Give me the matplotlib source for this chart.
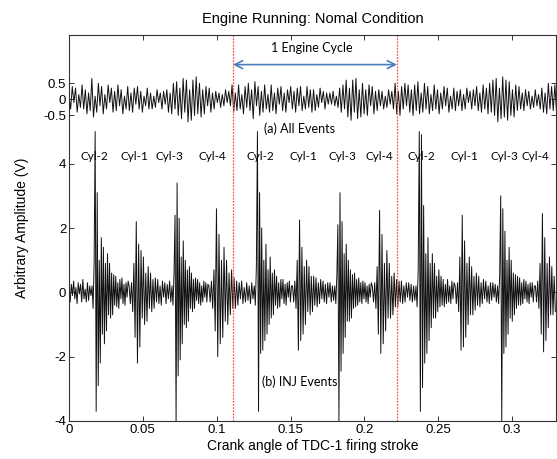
import matplotlib
matplotlib.use('Agg')
import matplotlib.pyplot as plt
import numpy as np

# ---- data ----
x_end = 0.33
cycle_marks = [0.111, 0.222]

# (a) All Events, plotted around offset 6
all_offset = 6.0
all_events = [
    0.1, -0.3, 0.4, -0.1, 0.35, -0.4, 0.15, -0.25, 0.45, -0.3,
    0.3, -0.45, 0.2, -0.35, 0.65, -0.55, 0.1, -0.4, 0.5, -0.2,
    0.4, -0.45, 0.15, -0.3, 0.45, -0.1, 0.35, -0.4, 0.25, -0.35,
    0.45, -0.2, 0.3, -0.45, 0.1, -0.3, 0.4, -0.35, 0.2, -0.4,
    0.35, -0.15, 0.4, -0.3, 0.25, -0.4, 0.1, -0.2, 0.35, -0.3,
    0.2, -0.3, 0.1, -0.25, 0.3, -0.1, 0.2, -0.3, 0.25, -0.15,
    0.3, -0.4, 0.2, -0.45, 0.5, -0.3, 0.55, -0.5, 0.35, -0.6,
    0.65, -0.4, 0.6, -0.7, 0.3, -0.65, 0.6, -0.5, 0.7, -0.45,
    0.5, -0.55, 0.3, -0.45, 0.4, -0.2, 0.35, -0.4, 0.2, -0.3,
    0.25, -0.1, 0.2, -0.25, 0.15, -0.2, 0.3, -0.1, 0.25, -0.2,
    0.45, -0.4, 0.2, -0.35, 0.45, -0.3, 0.15, -0.45, 0.4, -0.25,
    0.5, -0.35, 0.3, -0.6, 0.55, -0.2, 0.4, -0.5, 0.25, -0.4,
    0.45, -0.3, 0.15, -0.4, 0.45, -0.35, 0.2, -0.45, 0.35, -0.15,
    0.4, -0.35, 0.2, -0.4, 0.3, -0.1, 0.4, -0.3, 0.25, -0.4,
    0.35, -0.2, 0.4, -0.35, 0.1, -0.3, 0.4, -0.25, 0.3, -0.4,
    0.3, -0.35, 0.15, -0.25, 0.35, -0.1, 0.25, -0.3, 0.2, -0.15,
    0.2, -0.15, 0.25, -0.2, 0.1, -0.25, 0.35, -0.4, 0.45, -0.3,
    0.6, -0.55, 0.35, -0.65, 0.6, -0.4, 0.65, -0.6, 0.3, -0.55,
    0.5, -0.45, 0.3, -0.5, 0.45, -0.2, 0.4, -0.45, 0.25, -0.35,
    0.3, -0.2, 0.25, -0.3, 0.1, -0.25, 0.3, -0.15, 0.25, -0.3,
    0.5, -0.45, 0.25, -0.5, 0.4, -0.3, 0.5, -0.2, 0.45, -0.4,
    0.3, -0.5, 0.45, -0.35, 0.55, -0.45, 0.2, -0.4, 0.5, -0.3,
    0.4, -0.45, 0.15, -0.35, 0.45, -0.3, 0.3, -0.45, 0.2, -0.3,
    0.4, -0.2, 0.35, -0.4, 0.1, -0.3, 0.35, -0.35, 0.25, -0.2,
    0.3, -0.35, 0.15, -0.3, 0.35, -0.1, 0.25, -0.3, 0.3, -0.2,
    0.4, -0.35, 0.2, -0.4, 0.45, -0.3, 0.35, -0.45, 0.5, -0.4,
    0.6, -0.5, 0.65, -0.7, 0.35, -0.6, 0.7, -0.55, 0.6, -0.65,
    0.55, -0.5, 0.3, -0.55, 0.45, -0.35, 0.4, -0.3, 0.2, -0.35,
    0.3, -0.2, 0.25, -0.3, 0.1, -0.25, 0.3, -0.2, 0.15, -0.3,
    0.35, -0.4, 0.2, -0.45, 0.5, -0.3, 0.4, -0.35, 0.45, -0.4,
]

# (b) INJ Events: lead-in noise, then one segment per injection event
inj_lead = [0.1, -0.3, 0.25, -0.1, 0.35, -0.2, 0.15, -0.35, 0.3, -0.05,
            0.25, -0.3, 0.4, -0.2, 0.1, -0.3, 0.3, -0.25, 0.2, -0.1]
inj_onsets = [0.0156, 0.0407, 0.0697, 0.0947, 0.1254, 0.1513,
              0.1799, 0.2053, 0.2349, 0.2614, 0.2901, 0.3157]
inj_segments = [
    [0.2, -0.5, 0.9, 5.0, -3.7, 3.1, -2.9, 1.0, -2.2, 1.7, -1.3, 1.4,
     -1.6, 0.9, -1.2, 1.2, -0.7, 0.9, -0.8, 0.6, -0.7, 0.55, -0.4, 0.5,
     -0.45, 0.3, -0.5, 0.4, -0.2, 0.45, -0.35, 0.25, -0.4, 0.3, -0.15, 0.35],
    [0.2, -0.35, 0.3, -0.6, 0.9, -1.4, 2.2, -2.2, 1.5, -1.7, 1.3, -0.8,
     1.1, -1.0, 0.6, -0.9, 0.8, -0.5, 0.6, -0.6, 0.4, -0.5, 0.45, -0.3,
     0.4, -0.35, 0.2, -0.4, 0.35, -0.15, 0.3, -0.35, 0.25, -0.2, 0.35, -0.3],
    [0.2, -0.4, 0.6, 2.4, -4.0, 3.4, -2.6, 2.3, -2.1, 1.1, -1.6, 1.6,
     -1.0, 1.0, -1.1, 0.7, -0.9, 0.8, -0.5, 0.6, -0.6, 0.4, -0.5, 0.45,
     -0.25, 0.4, -0.35, 0.3, -0.4, 0.2, -0.3, 0.35, -0.15, 0.3, -0.3, 0.25],
    [0.2, -0.3, 0.35, -0.5, 0.7, -1.2, 2.6, -2.0, 1.8, -1.6, 1.0, -1.4,
     1.4, -0.9, 1.0, -1.0, 0.6, -0.7, 0.7, -0.5, 0.45, -0.5, 0.35, -0.4,
     0.3, -0.2, 0.35, -0.35, 0.15, -0.3, 0.3, -0.25, 0.2, -0.35, 0.3, -0.2],
    [0.2, -0.4, 0.8, 5.0, -3.7, 3.1, -1.9, 2.0, -1.8, 1.0, -1.5, 1.5,
     -1.3, 0.7, -1.0, 1.1, -0.8, 0.6, -0.7, 0.7, -0.4, 0.5, -0.5, 0.3,
     -0.45, 0.4, -0.2, 0.4, -0.35, 0.25, -0.4, 0.3, -0.15, 0.35, -0.3, 0.2],
    [0.2, -0.3, 0.35, -0.5, 1.0, -1.8, 2.25, -1.5, 1.4, -1.3, 0.8, -1.0,
     1.0, -0.6, 0.8, -0.7, 0.5, -0.6, 0.5, -0.4, 0.45, -0.45, 0.3, -0.35,
     0.4, -0.2, 0.35, -0.3, 0.25, -0.35, 0.3, -0.15, 0.3, -0.3, 0.2, -0.25],
    [0.2, -0.35, 0.5, 2.1, -4.0, 3.1, -2.45, 2.2, -1.9, 1.2, -1.4, 1.5,
     -0.9, 1.0, -0.9, 0.7, -0.8, 0.55, -0.5, 0.6, -0.45, 0.4, -0.4, 0.45,
     -0.3, 0.3, -0.35, 0.35, -0.2, 0.3, -0.3, 0.2, -0.35, 0.25, -0.15, 0.3],
    [0.2, -0.3, 0.3, -0.5, 0.8, -1.3, 2.55, -1.9, 1.8, -1.6, 0.9, -1.2,
     1.3, -0.8, 0.9, -0.8, 0.5, -0.7, 0.6, -0.45, 0.4, -0.45, 0.35, -0.3,
     0.35, -0.35, 0.2, -0.3, 0.3, -0.15, 0.3, -0.25, 0.25, -0.3, 0.2, -0.25],
    [0.2, -0.45, 0.7, 5.0, -3.7, 4.9, -2.96, 2.7, -2.2, 1.2, -1.9, 1.7,
     -1.5, 0.9, -1.1, 1.2, -0.8, 0.9, -0.8, 0.5, -0.6, 0.7, -0.45, 0.5,
     -0.4, 0.4, -0.45, 0.25, -0.35, 0.4, -0.3, 0.2, -0.35, 0.35, -0.2, 0.3],
    [0.2, -0.35, 0.3, -0.6, 1.1, -1.8, 2.4, -1.7, 1.6, -1.4, 0.9, -1.0,
     1.1, -0.7, 0.8, -0.7, 0.5, -0.55, 0.6, -0.4, 0.5, -0.45, 0.3, -0.35,
     0.4, -0.2, 0.35, -0.3, 0.2, -0.35, 0.3, -0.25, 0.3, -0.15, 0.25, -0.3],
    [0.2, -0.35, 0.5, 3.0, -4.0, 2.6, -1.9, 1.9, -1.7, 1.0, -1.3, 1.4,
     -0.8, 1.0, -0.9, 0.6, -0.7, 0.55, -0.5, 0.5, -0.4, 0.45, -0.4, 0.3,
     -0.35, 0.4, -0.2, 0.35, -0.3, 0.25, -0.35, 0.3, -0.15, 0.3, -0.3, 0.2],
    [0.2, -0.3, 0.35, -0.5, 0.9, -1.3, 2.45, -1.85, 1.7, -1.5, 0.9, -1.1,
     1.1, -0.7, 0.8, -0.7, 0.5, -0.6],
]

cyl_names = ['Cyl-2', 'Cyl-1', 'Cyl-3', 'Cyl-4'] * 3
cyl_label_x = [0.0171, 0.0441, 0.0682, 0.0971, 0.1297, 0.1588,
               0.1851, 0.2099, 0.2383, 0.2676, 0.2946, 0.3160]

ytick_pos = [-4, -2, 0, 2, 4, 5.5, 6, 6.5]
ytick_lab = ['-4', '-2', '0', '2', '4', '-0.5', '0', '0.5']
xtick_pos = [0, 0.05, 0.1, 0.15, 0.2, 0.25, 0.3]
xtick_lab = ['0', '0.05', '0.1', '0.15', '0.2', '0.25', '0.3']

# ---- build traces ----
x_all = np.linspace(0, x_end, len(all_events))
y_all = np.array(all_events) + all_offset

x_inj = list(np.linspace(0, inj_onsets[0], len(inj_lead), endpoint=False))
y_inj = list(inj_lead)
for i, seg in enumerate(inj_segments):
    stop = inj_onsets[i + 1] if i + 1 < len(inj_onsets) else x_end
    x_inj += list(np.linspace(inj_onsets[i], stop, len(seg), endpoint=False))
    y_inj += seg

# ---- plot ----
plt.rcParams['font.family'] = ['Liberation Sans', 'DejaVu Sans']
fig = plt.figure(figsize=(5.57, 4.59), dpi=100)
ax = fig.add_axes([0.1239, 0.0828, 0.8752, 0.8409])

ax.plot(x_all, y_all, color='#111111', lw=0.7)
ax.plot(x_inj, y_inj, color='#111111', lw=0.7)

for xm in cycle_marks:
    ax.axvline(xm, color='#ff5050', lw=0.9, ls=(0, (1.5, 1)))

ax.annotate('', xy=(cycle_marks[0], 7.08), xytext=(cycle_marks[1], 7.08),
            arrowprops=dict(arrowstyle='<->', color='#4a7ebb', lw=1.2,
                            mutation_scale=14, shrinkA=0, shrinkB=0))
ann_font = ['Lato', 'DejaVu Sans']
ax.text(0.1642, 7.6, '1 Engine Cycle', ha='center', va='center',
        fontsize=9, family=ann_font)
ax.text(0.156, 5.08, '(a) All Events', ha='center', va='center',
        fontsize=9, family=ann_font)
ax.text(0.156, -2.79, '(b) INJ Events', ha='center', va='center',
        fontsize=9, family=ann_font)
for xc, name in zip(cyl_label_x, cyl_names):
    ax.text(xc, 4.22, name, ha='center', va='center', fontsize=8.5,
            family=ann_font)

ax.set_xlim(0, x_end)
ax.set_ylim(-4, 8)
ax.set_xticks(xtick_pos)
ax.set_xticklabels(xtick_lab)
ax.set_yticks(ytick_pos)
ax.set_yticklabels(ytick_lab)
ax.tick_params(direction='in', top=True, right=True, length=3.5,
               width=0.7, labelsize=9.5, pad=2, color='#333333')
for s in ax.spines.values():
    s.set_color('#333333')
    s.set_linewidth(0.8)

ax.set_title('Engine Running: Nomal Condition', fontsize=10.5, pad=9)
ax.set_xlabel('Crank angle of TDC-1 firing stroke', fontsize=10, labelpad=2)
ax.set_ylabel('Arbitrary Amplitude (V)', fontsize=10, labelpad=10)

fig.savefig('out.png', dpi=100)
